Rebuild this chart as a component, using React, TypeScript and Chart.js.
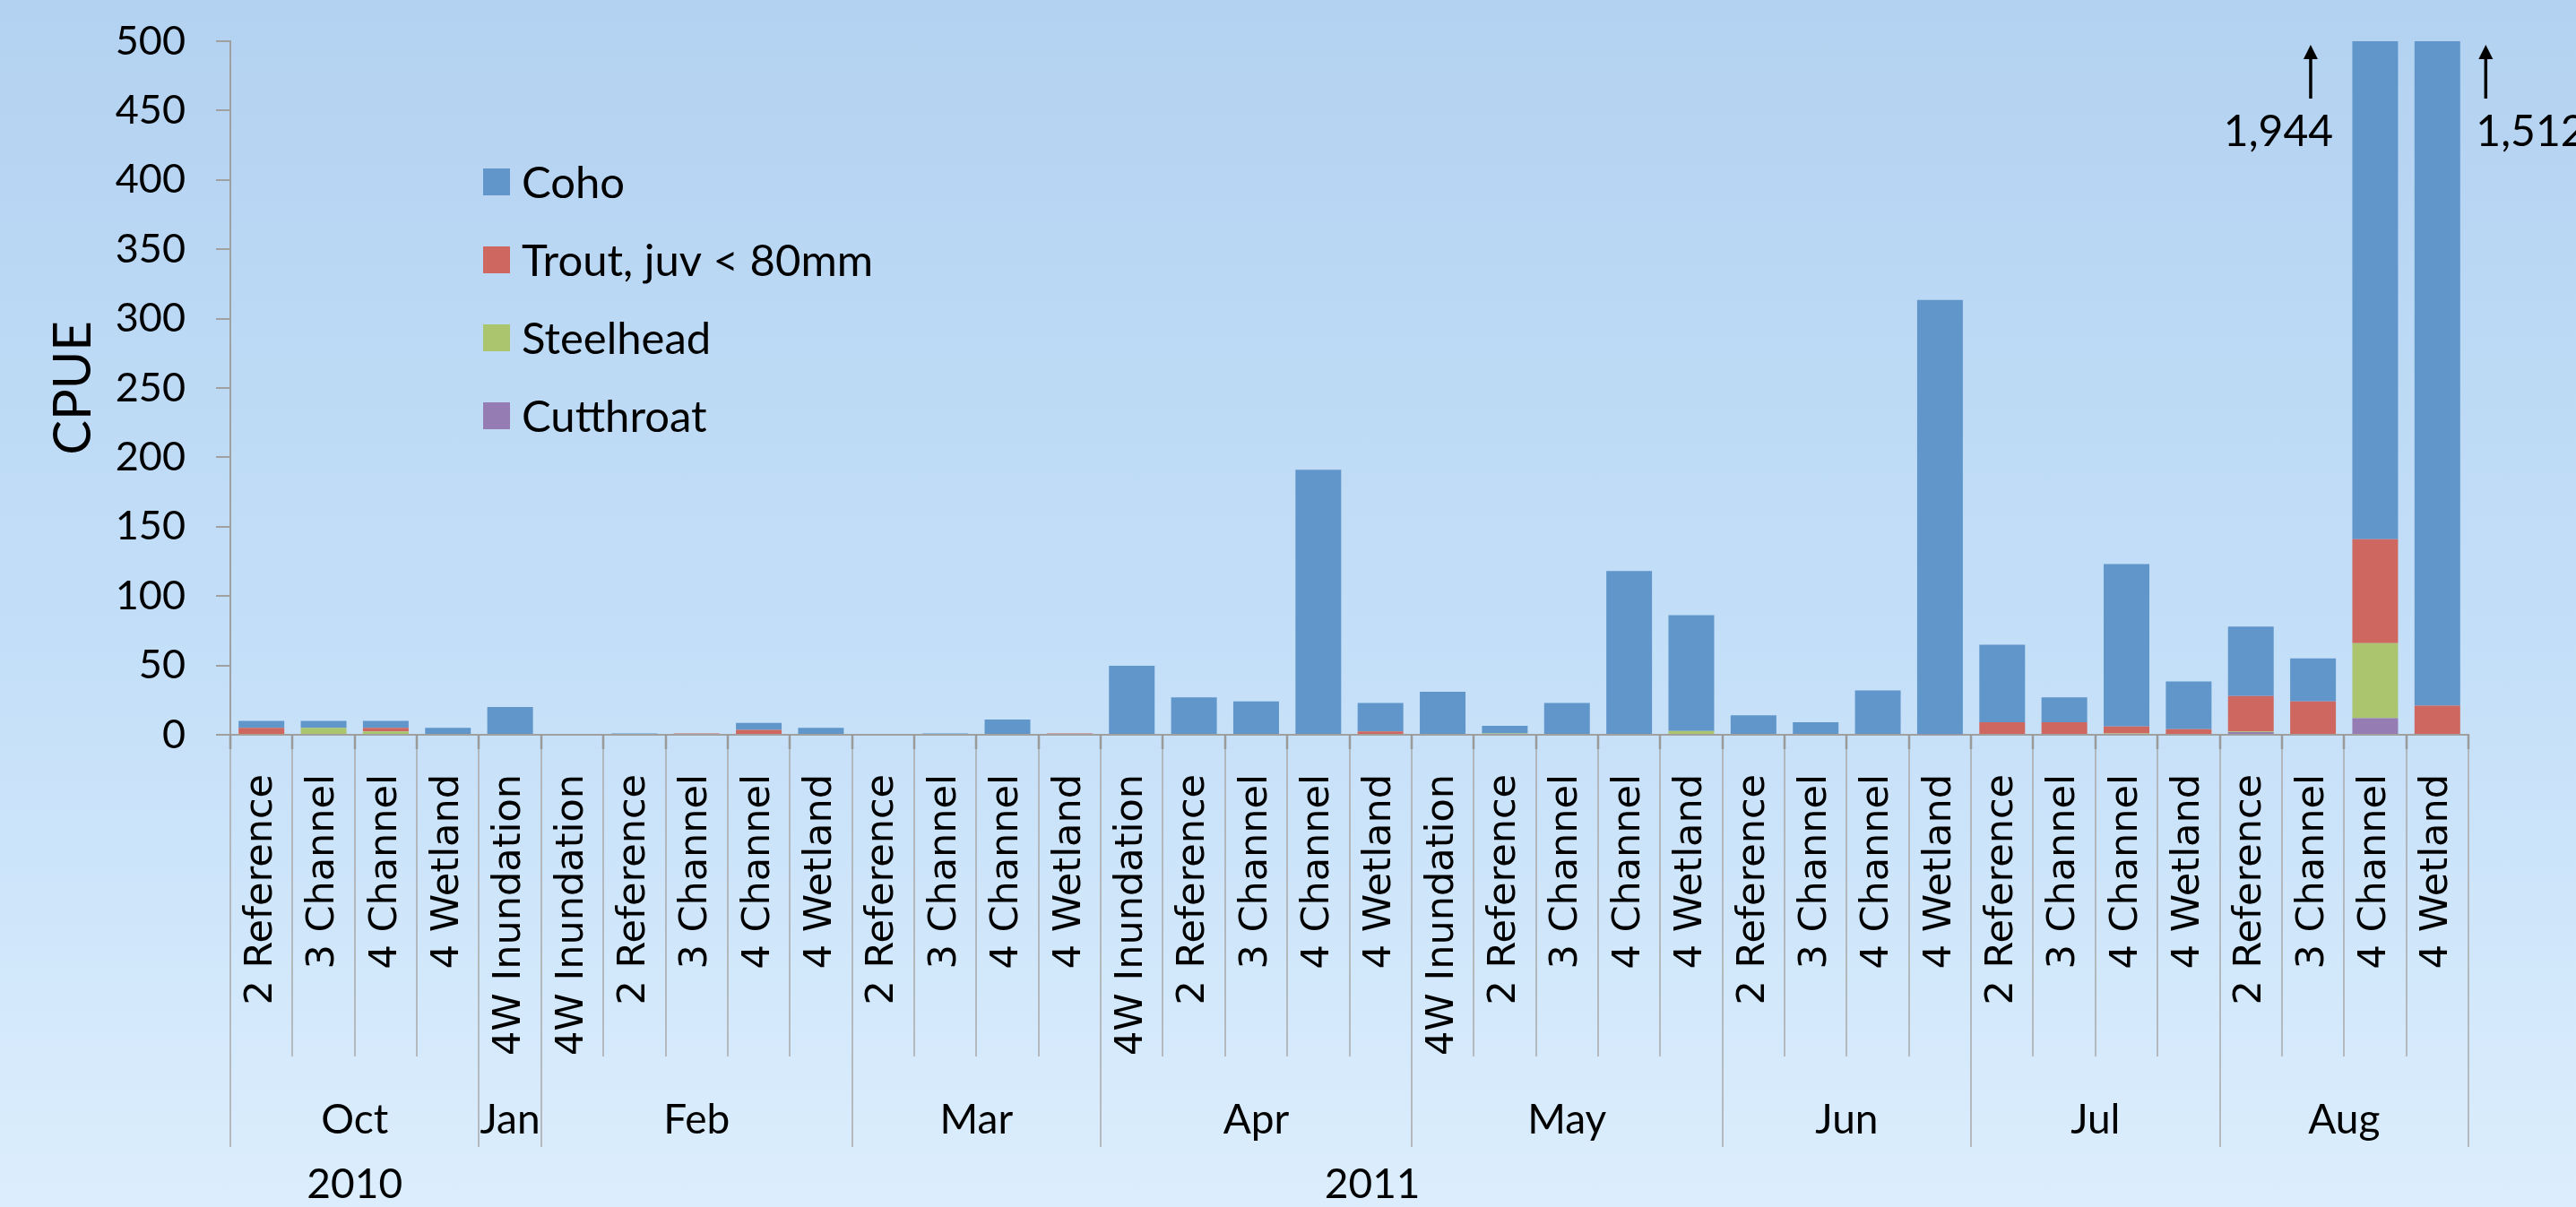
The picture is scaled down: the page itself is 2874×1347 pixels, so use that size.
import React, { useEffect, useRef } from 'react';
import { Chart, registerables } from 'chart.js';

Chart.register(...registerables);

// ---------- data ----------
const sites = [
  '2 Reference', '3 Channel', '4 Channel', '4 Wetland',
  '4W Inundation',
  '4W Inundation', '2 Reference', '3 Channel', '4 Channel', '4 Wetland',
  '2 Reference', '3 Channel', '4 Channel', '4 Wetland',
  '4W Inundation', '2 Reference', '3 Channel', '4 Channel', '4 Wetland',
  '4W Inundation', '2 Reference', '3 Channel', '4 Channel', '4 Wetland',
  '2 Reference', '3 Channel', '4 Channel', '4 Wetland',
  '2 Reference', '3 Channel', '4 Channel', '4 Wetland',
  '2 Reference', '3 Channel', '4 Channel', '4 Wetland',
];
const months = ['Oct', 'Jan', 'Feb', 'Mar', 'Apr', 'May', 'Jun', 'Jul', 'Aug'];
const monthSpans = [4, 1, 5, 4, 5, 5, 4, 4, 4];
const years = ['2010', '2011'];

const coho = [
  5, 5, 5, 5,
  20,
  0, 1, 0, 5, 5,
  0, 1, 11, 0,
  49, 27, 24, 191, 20.5,
  31, 5.5, 23, 118, 83.5,
  14, 9, 32, 313,
  56, 18, 117, 34.5,
  50, 31, 1803, 1491,
];
const trout = [
  4.5, 0, 2.5, 0,
  0,
  0, 0, 1, 3.5, 0,
  0, 0, 0, 1,
  0, 0, 0, 0, 2.5,
  0, 0, 0, 0, 0,
  0, 0, 0, 0,
  9, 9, 5, 4,
  25.5, 24, 75, 21,
];
const steelhead = [
  0.5, 5, 2.5, 0,
  0,
  0, 0, 0, 0, 0,
  0, 0, 0, 0,
  0, 0, 0, 0, 0,
  0, 1, 0, 0, 2.7,
  0, 0, 0, 0,
  0, 0, 1, 0,
  0.5, 0, 54, 0,
];
const cutthroat = [
  0, 0, 0, 0,
  0,
  0, 0, 0, 0, 0,
  0, 0, 0, 0,
  0.7, 0, 0, 0, 0,
  0, 0, 0, 0, 0,
  0, 0, 0, 0.5,
  0, 0, 0, 0,
  2, 0, 12, 0,
];
const yMax = 500;
const yStep = 50;
const overflowNotes = [
  { index: 34, text: '1,944', side: 'left' },
  { index: 35, text: '1,512', side: 'right' },
];

// ---------- styles ----------
const COLORS = {
  coho: '#6196CA',
  trout: '#CE675F',
  steelhead: '#ABC46E',
  cutthroat: '#957CB2',
};
const LABEL_FONT = 'Lato';
const SITE_FONT = 'DejaVu Sans';
const AXIS_GRAY = '#A0A0A0';

const overlayPlugin = {
  id: 'overlay',
  afterDraw(chart: any) {
    const { ctx, chartArea } = chart;
    const x = chart.scales.x;
    const n = sites.length;
    const cw = (x.right - x.left) / n;
    const bottom = chartArea.bottom;
    const top = chartArea.top;

    ctx.save();
    // category / month separators
    const monthBounds = new Set<number>();
    let acc = 0;
    monthBounds.add(0);
    monthSpans.forEach((s) => { acc += s; monthBounds.add(acc); });
    for (let i = 0; i <= n; i++) {
      const bx = Math.round(x.left + i * cw);
      const isMonth = monthBounds.has(i);
      ctx.strokeStyle = '#A8A8A8';
      ctx.lineWidth = 1.5;
      ctx.beginPath();
      ctx.moveTo(bx, bottom);
      ctx.lineTo(bx, bottom + (isMonth ? 460 : 359));
      ctx.stroke();
      ctx.strokeStyle = '#9A9A9A';
      ctx.lineWidth = 2.5;
      ctx.beginPath();
      ctx.moveTo(bx, bottom);
      ctx.lineTo(bx, bottom + 16);
      ctx.stroke();
    }

    // month labels
    ctx.fillStyle = '#000';
    ctx.font = `46px ${LABEL_FONT}`;
    ctx.textAlign = 'center';
    ctx.textBaseline = 'middle';
    let start = 0;
    months.forEach((m, k) => {
      const c = x.left + (start + monthSpans[k] / 2) * cw;
      ctx.fillText(m, c, bottom + 430);
      start += monthSpans[k];
    });
    // year labels
    const yearPos = [2, 18.37];
    years.forEach((yv, k) => {
      ctx.fillText(yv, x.left + yearPos[k] * cw, bottom + 502);
    });

    // overflow annotations
    ctx.font = `48px ${LABEL_FONT}`;
    ctx.textBaseline = 'alphabetic';
    overflowNotes.forEach((note) => {
      const c = x.getPixelForValue(note.index);
      const ax = note.side === 'left' ? c - 72 : c + 54;
      ctx.strokeStyle = '#000';
      ctx.fillStyle = '#000';
      ctx.lineWidth = 3.5;
      ctx.beginPath();
      ctx.moveTo(ax, top + 64);
      ctx.lineTo(ax, top + 16);
      ctx.stroke();
      ctx.beginPath();
      ctx.moveTo(ax, top + 4);
      ctx.lineTo(ax - 8, top + 20);
      ctx.lineTo(ax + 8, top + 20);
      ctx.closePath();
      ctx.fill();
      if (note.side === 'left') {
        ctx.textAlign = 'center';
        ctx.fillText(note.text, c - 108, top + 117);
      } else {
        ctx.textAlign = 'left';
        ctx.fillText(note.text, c + 43, top + 117);
      }
    });

    // legend
    const items = [...chart.data.datasets].reverse();
    ctx.font = `49px ${LABEL_FONT}`;
    ctx.textAlign = 'left';
    ctx.textBaseline = 'middle';
    items.forEach((ds: any, k: number) => {
      const cy = top + 157 + k * 87;
      ctx.fillStyle = ds.backgroundColor;
      ctx.fillRect(539, cy - 15, 30, 30);
      ctx.fillStyle = '#000';
      ctx.fillText(ds.label, 582, cy + 2);
    });
    ctx.restore();
  },
};

export default function App() {
  const canvasRef = useRef<HTMLCanvasElement | null>(null);

  useEffect(() => {
    document.body.style.margin = '0';
    document.body.style.overflow = 'hidden';
    let chart: Chart | null = null;
    let cancelled = false;

    const build = () => {
      if (cancelled || !canvasRef.current) return;
      chart = new Chart(canvasRef.current, {
        type: 'bar',
        data: {
          labels: sites,
          datasets: [
            { label: 'Cutthroat', data: cutthroat, backgroundColor: COLORS.cutthroat },
            { label: 'Steelhead', data: steelhead, backgroundColor: COLORS.steelhead },
            { label: 'Trout, juv < 80mm', data: trout, backgroundColor: COLORS.trout },
            { label: 'Coho', data: coho, backgroundColor: COLORS.coho },
          ].map((d) => ({
            ...d,
            borderWidth: 0,
            barPercentage: 1,
            categoryPercentage: 0.735,
          })),
        },
        options: {
          responsive: false,
          animation: false,
          layout: { padding: { left: 45, top: 46, right: 120, bottom: 0 } },
          plugins: {
            legend: { display: false },
            tooltip: { enabled: false },
          },
          scales: {
            x: {
              stacked: true,
              offset: true,
              grid: { display: false },
              border: { display: true, color: AXIS_GRAY, width: 2 },
              ticks: {
                autoSkip: false,
                minRotation: 90,
                maxRotation: 90,
                padding: 36,
                color: '#000',
                font: { family: SITE_FONT, size: 43 },
              },
              afterFit(scale: any) { scale.height = 527; },
            },
            y: {
              stacked: true,
              min: 0,
              max: yMax,
              grid: {
                display: true,
                drawOnChartArea: false,
                drawTicks: true,
                tickLength: 16,
                color: AXIS_GRAY,
                lineWidth: 2,
              },
              border: { display: true, color: AXIS_GRAY, width: 2 },
              ticks: {
                stepSize: yStep,
                padding: 34,
                color: '#000',
                font: { family: LABEL_FONT, size: 45 },
              },
              title: {
                display: true,
                text: 'CPUE',
                color: '#000',
                font: { family: LABEL_FONT, size: 58 },
                padding: { top: 2, bottom: 4 },
              },
              afterFit(scale: any) {
                scale.width = 212;
                scale.paddingTop = 0;
                scale.paddingBottom = 0;
              },
            },
          },
        },
        plugins: [overlayPlugin],
      });
    };

    const fontsReady = (document as any).fonts
      ? Promise.all([
          (document as any).fonts.load(`45px ${LABEL_FONT}`),
          (document as any).fonts.load(`43px "${SITE_FONT}"`),
        ]).catch(() => null)
      : Promise.resolve(null);
    fontsReady.then(build);

    return () => {
      cancelled = true;
      if (chart) chart.destroy();
    };
  }, []);

  return (
    <div
      style={{
        width: 2874,
        height: 1347,
        background: 'linear-gradient(to bottom, #B3D2F1 0%, #C4DFF8 55%, #DCEEFD 100%)',
      }}
    >
      <canvas ref={canvasRef} width={2874} height={1347} style={{ display: 'block' }} />
    </div>
  );
}
